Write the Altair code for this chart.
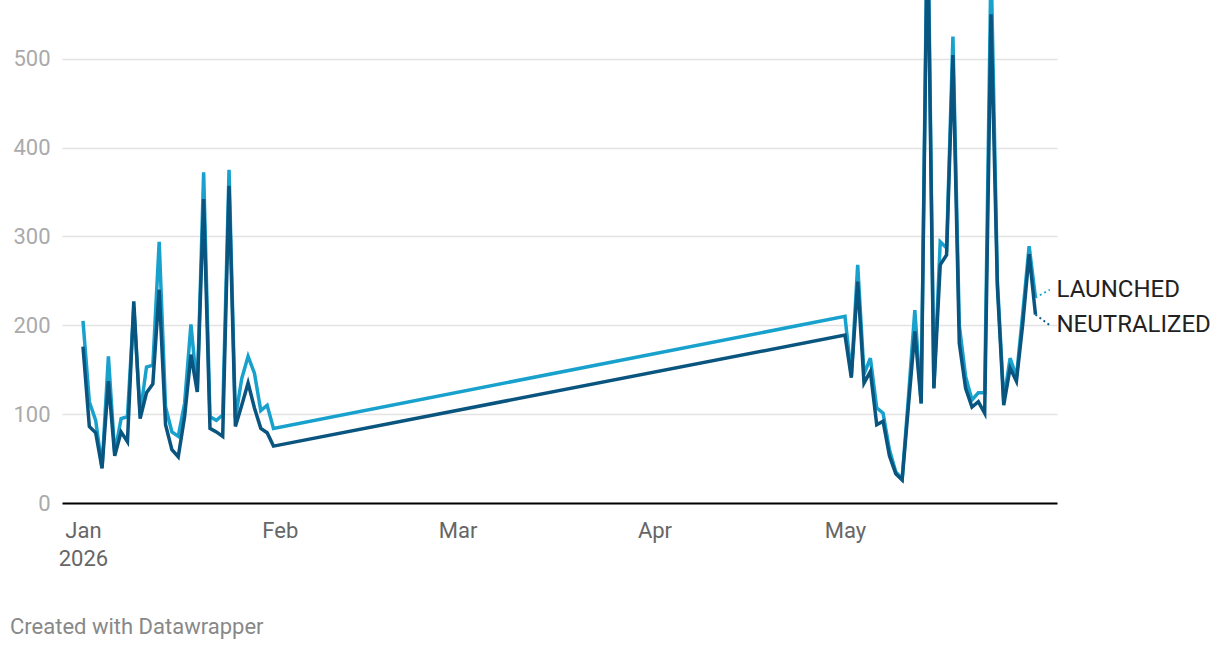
import altair as alt
import pandas as pd

# ---- data ----
jan_days = list(range(1, 32))
may_days = list(range(1, 32))

launched_jan = [205, 114, 93, 40, 165, 56, 95, 97, 220, 100, 153, 155, 294, 108, 80, 75,
                112, 201, 126, 372, 97, 93, 99, 375, 95, 140, 165, 146, 104, 110, 84]
neutralized_jan = [176, 86, 79, 39, 137, 53, 80, 69, 227, 95, 124, 134, 240, 88, 60, 52,
                   97, 167, 125, 342, 84, 80, 75, 357, 86, 110, 135, 107, 84, 79, 64]
launched_may = [210, 143, 268, 145, 163, 107, 101, 60, 35, 27, 120, 217, 112, 690, 130, 294,
                287, 525, 200, 142, 116, 124, 124, 610, 250, 116, 163, 142, 214, 289, 231]
neutralized_may = [189, 141, 249, 135, 148, 88, 92, 53, 33, 26, 110, 193, 112, 660, 129, 268,
                   279, 504, 180, 129, 108, 114, 101, 550, 243, 110, 152, 137, 202, 280, 212]

series_names = ["LAUNCHED", "NEUTRALIZED"]
series_colors = ["#18a1cd", "#09557f"]
label_values = [240, 200]
y_ticks = [0, 100, 200, 300, 400, 500]
footer = "Created with Datawrapper"

dates = [f"2026-01-{d:02d}T00:00:00" for d in jan_days] + [f"2026-05-{d:02d}T00:00:00" for d in may_days]

df_l = pd.DataFrame({"date": dates, "value": launched_jan + launched_may, "series": series_names[0]})
df_n = pd.DataFrame({"date": dates, "value": neutralized_jan + neutralized_may, "series": series_names[1]})

x_scale = alt.Scale(domain=["2025-12-28T16:40:00", "2026-06-03T09:20:00"], nice=False)
y_scale = alt.Scale(domain=[0, 566], nice=False)

x_axis = alt.Axis(
    title=None,
    values=[alt.DateTime(year=2026, month=m, date=1) for m in range(1, 6)],
    labelExpr="month(datum.value) == 0 ? [timeFormat(datum.value, '%b'), timeFormat(datum.value, '%Y')] : timeFormat(datum.value, '%b')",
    ticks=False, grid=False,
    domain=True, domainColor="#000000", domainWidth=2,
    labelFont="Roboto", labelFontSize=22, labelColor="#666666",
    labelPadding=17, labelLineHeight=28, labelAlign="center",
)
y_axis = alt.Axis(
    title=None, values=y_ticks, ticks=False, domain=False,
    grid=True, gridColor="#e3e3e3", gridWidth=1.5,
    labelFont="Roboto", labelFontSize=22, labelColor="#aaaaaa",
    labelPadding=12, labelBaseline="middle",
)

X = alt.X("date:T", scale=x_scale, axis=x_axis)
Y = alt.Y("value:Q", scale=y_scale, axis=y_axis)

l_line = alt.Chart(df_l).mark_line(color=series_colors[0], strokeWidth=3.5, clip=True).encode(x=X, y=Y)
n_line = alt.Chart(df_n).mark_line(color=series_colors[1], strokeWidth=3.5, clip=True).encode(x=X, y=Y)

# end labels and dotted connectors
end_df = pd.DataFrame({
    "series": series_names,
    "date": [dates[-1], dates[-1]],
    "date2": ["2026-06-02T06:00:00", "2026-06-02T06:00:00"],
    "value": [launched_may[-1], neutralized_may[-1]],
    "label_value": label_values,
    "color": series_colors,
})
connectors = alt.Chart(end_df).mark_rule(strokeDash=[2, 3], strokeWidth=1.8).encode(
    x=X, x2="date2:T", y=Y, y2="label_value:Q",
    color=alt.Color("color:N", scale=None),
)
labels = alt.Chart(end_df).mark_text(
    align="left", baseline="middle", dx=21, font="Roboto", fontSize=24, color="#222222"
).encode(
    x=X,
    y=alt.Y("label_value:Q", scale=y_scale, axis=y_axis),
    text="series:N",
)

foot = alt.Chart(pd.DataFrame({"t": [footer]})).mark_text(
    align="left", baseline="middle", font="Roboto", fontSize=22, color="#888888"
).encode(text="t:N", x=alt.value(-52), y=alt.value(627))

chart = alt.layer(l_line, n_line, connectors, labels, foot).properties(
    width=995, height=503,
    autosize=alt.AutoSizeParams(type="none"),
    padding={"left": 62, "top": 0, "right": 163, "bottom": 147},
).configure_view(strokeWidth=0)

chart.save("out.html", embed_options={"renderer": "svg", "actions": False})
